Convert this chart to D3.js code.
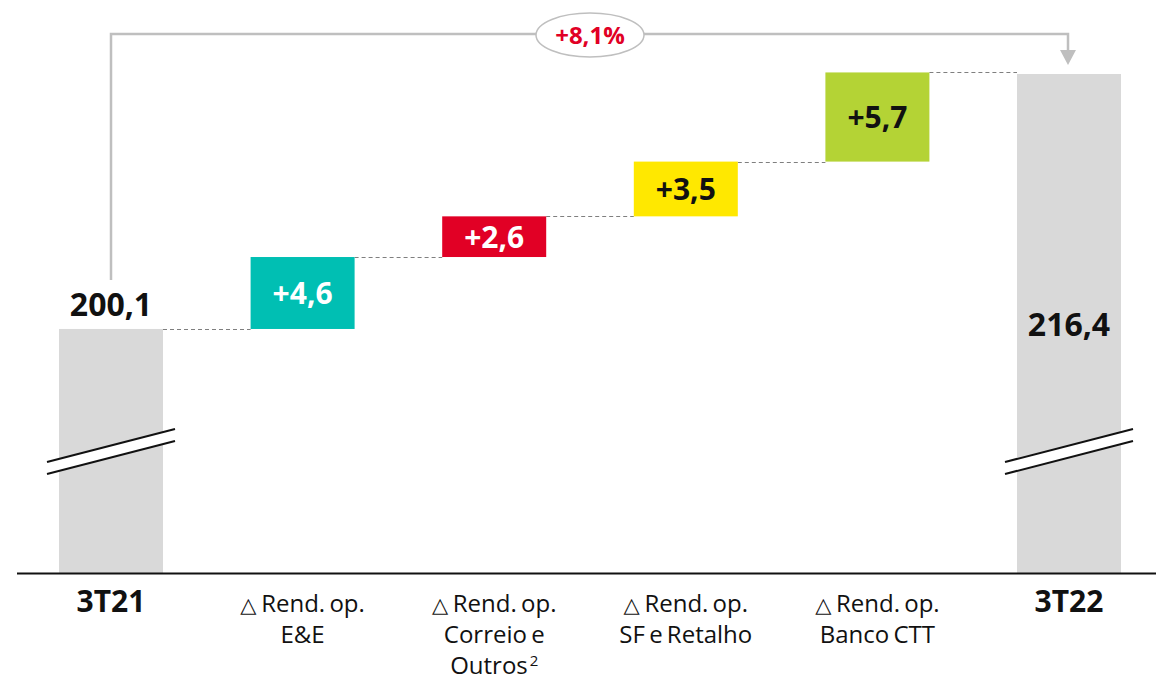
<!DOCTYPE html>
<html>
<head>
<meta charset="utf-8">
<script src="https://cdn.jsdelivr.net/npm/d3@7"></script>
<style>
  body { margin: 0; background: #fff; }
  svg { display: block; font-family: "Open Sans", sans-serif; }
</style>
</head>
<body>
<svg id="chart" width="1156" height="680"></svg>
<script>
// data
const categories = ["3T21", "E&E", "Correio", "SF", "Banco", "3T22"];
const catLines = [
  [{ t: "3T21", bold: true }],
  [{ t: "Rend. op.", delta: true }, { t: "E&E" }],
  [{ t: "Rend. op.", delta: true }, { t: "Correio e" }, { t: "Outros", sup: "2" }],
  [{ t: "Rend. op.", delta: true }, { t: "SF e Retalho" }],
  [{ t: "Rend. op.", delta: true }, { t: "Banco CTT" }],
  [{ t: "3T22", bold: true }]
];
const startValue = 200.1;
const deltas = [4.6, 2.6, 3.5, 5.7];
const endValue = 216.4;
const deltaLabels = ["+4,6", "+2,6", "+3,5", "+5,7"];
const deltaColors = ["#00BFB3", "#E10025", "#FFE800", "#B4D335"];
const deltaTextColors = ["#fff", "#fff", "#111", "#111"];
const totalLabels = ["200,1", "216,4"];
const growthLabel = "+8,1%";
const axisFloor = 184.5; // broken axis: value shown at baseline

const svg = d3.select("#chart");
const baseY = 573;
const barW = 104;

const x = d3.scalePoint().domain(categories).range([111, 1069]);
const y = d3.scaleLinear().domain([axisFloor, endValue]).range([baseY, 74]);

// build waterfall steps
let run = startValue;
const steps = deltas.map((d, i) => {
  const s = { cat: categories[i + 1], from: run, to: run + d, label: deltaLabels[i], color: deltaColors[i], tc: deltaTextColors[i] };
  run += d;
  return s;
});

// connectors
const tops = [startValue].concat(steps.map(s => s.to));
svg.append("g").selectAll("line")
  .data(tops)
  .join("line")
  .attr("x1", (d, i) => x(categories[i]) + barW / 2)
  .attr("x2", (d, i) => x(categories[i + 1]) - barW / 2)
  .attr("y1", d => Math.round(y(d)) + 0.5)
  .attr("y2", d => Math.round(y(d)) + 0.5)
  .attr("stroke", "#7f7f7f")
  .attr("stroke-width", 1)
  .attr("stroke-dasharray", "4,3");

// total bars
const totals = [{ cat: categories[0], v: startValue }, { cat: categories[5], v: endValue }];
svg.append("g").selectAll("rect")
  .data(totals)
  .join("rect")
  .attr("x", d => x(d.cat) - barW / 2)
  .attr("y", d => y(d.v))
  .attr("width", barW)
  .attr("height", d => baseY - y(d.v))
  .attr("fill", "#D9D9D9");

// step bars
svg.append("g").selectAll("rect")
  .data(steps)
  .join("rect")
  .attr("x", d => x(d.cat) - barW / 2)
  .attr("y", d => y(d.to))
  .attr("width", barW)
  .attr("height", d => y(d.from) - y(d.to))
  .attr("fill", d => d.color);

svg.append("g").selectAll("text")
  .data(steps)
  .join("text")
  .attr("x", d => x(d.cat))
  .attr("y", d => (y(d.from) + y(d.to)) / 2 + 11)
  .attr("text-anchor", "middle")
  .attr("font-size", 30)
  .attr("font-weight", 700)
  .attr("fill", d => d.tc)
  .text(d => d.label);

// total labels
svg.append("text")
  .attr("x", x(categories[0]))
  .attr("y", y(startValue) - 13)
  .attr("text-anchor", "middle")
  .attr("font-size", 32).attr("font-weight", 700).attr("fill", "#111")
  .text(totalLabels[0]);
svg.append("text")
  .attr("x", x(categories[5]))
  .attr("y", y(endValue) + 262)
  .attr("text-anchor", "middle")
  .attr("font-size", 32).attr("font-weight", 700).attr("fill", "#111")
  .text(totalLabels[1]);

// axis break marks
const brk = svg.append("g");
[x(categories[0]), x(categories[5])].forEach(cx => {
  const x0 = cx - 64, x1 = cx + 64;
  brk.append("polygon")
    .attr("points", `${x0},462 ${x1},429 ${x1},441 ${x0},474`)
    .attr("fill", "#fff");
  [[462, 429], [474, 441]].forEach(([a, b]) => {
    brk.append("line")
      .attr("x1", x0).attr("y1", a).attr("x2", x1).attr("y2", b)
      .attr("stroke", "#111").attr("stroke-width", 2);
  });
});

// baseline
svg.append("line")
  .attr("x1", 17).attr("x2", 1156)
  .attr("y1", baseY + 0.5).attr("y2", baseY + 0.5)
  .attr("stroke", "#111").attr("stroke-width", 2);

// category labels
const catG = svg.append("g");
catLines.forEach((lines, i) => {
  const t = catG.append("text")
    .attr("x", x(categories[i]))
    .attr("text-anchor", "middle")
    .attr("fill", "#111");
  lines.forEach((ln, j) => {
    const tline = t.append("tspan")
      .attr("x", x(categories[i]))
      .attr("y", 612 + j * 31)
      .attr("font-size", ln.bold ? 30 : 24)
      .attr("font-weight", ln.bold ? 700 : 400)
      .attr("word-spacing", ln.bold ? 0 : -2);
    if (ln.delta) {
      tline.append("tspan")
        .attr("font-family", "DejaVu Sans")
        .attr("font-size", 21)
        .text("\u25B3 ");
    }
    tline.append("tspan").text(ln.t);
    if (ln.sup) {
      tline.append("tspan").attr("font-size", 15).attr("dy", -8).text(" " + ln.sup);
    }
  });
});

// growth arrow
const ax0 = x(categories[0]), ax1 = x(categories[5]);
const topY = 34;
svg.append("path")
  .attr("d", `M${ax0},280 V${topY} H${ax1 - 1} V52`)
  .attr("fill", "none")
  .attr("stroke", "#BFBFBF")
  .attr("stroke-width", 2.5);
svg.append("path")
  .attr("d", `M${ax1 - 9},50 L${ax1 + 7},50 L${ax1 - 1},65 Z`)
  .attr("fill", "#BFBFBF");
svg.append("ellipse")
  .attr("cx", 590).attr("cy", 35).attr("rx", 54).attr("ry", 22)
  .attr("fill", "#fff").attr("stroke", "#BFBFBF").attr("stroke-width", 1.5);
svg.append("text")
  .attr("x", 590).attr("y", 44)
  .attr("text-anchor", "middle")
  .attr("font-size", 24).attr("font-weight", 700)
  .attr("fill", "#E10025")
  .text(growthLabel);
</script>
</body>
</html>
